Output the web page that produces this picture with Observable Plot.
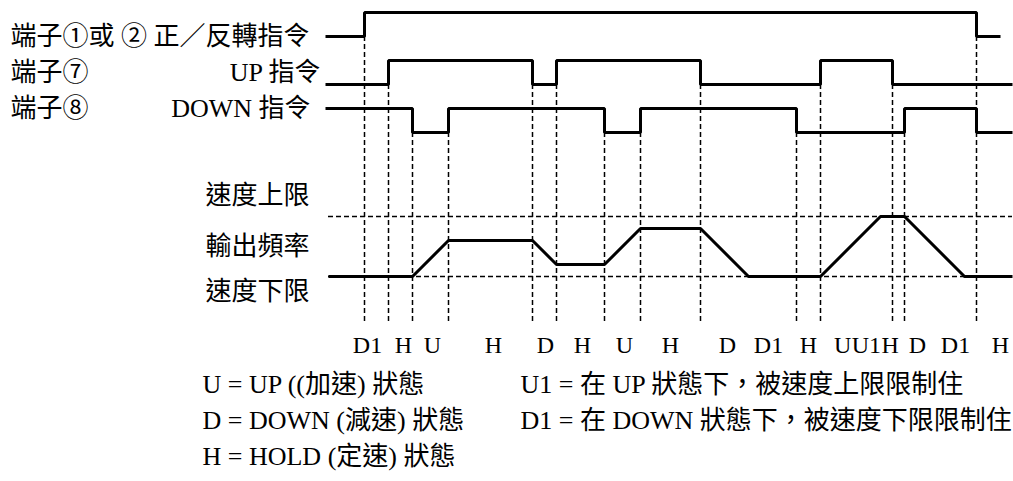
<!DOCTYPE html>
<html><head><meta charset="utf-8">
<script src="https://cdn.jsdelivr.net/npm/d3@7"></script>
<script src="https://cdn.jsdelivr.net/npm/@observablehq/plot@0.6"></script>
<style>
html,body{margin:0;padding:0;background:#fff;}
</style>
</head><body><div id="chart"></div>
<script>
// ---- data (time in arbitrary units, command levels 0 = low, 1 = high) ----
const runTimes   = [-0.25, 3, 54, 56];
const runLevels  = [0, 1, 0, 0];
const upTimes    = [-0.25, 5, 17, 19, 31, 41, 47, 57];
const upLevels   = [0, 1, 0, 1, 0, 1, 0, 0];
const downTimes  = [-0.25, 7, 10, 23, 26, 39, 48, 54, 57];
const downLevels = [1, 0, 1, 0, 1, 0, 1, 0, 0];
// output frequency: 0 = lower speed limit, 5 = upper speed limit
const freqTimes  = [0, 7, 10, 17, 19, 23, 26, 31, 35, 41, 46, 48, 53, 57];
const freqValues = [0, 0, 3, 3, 1, 1, 4, 4, 0, 0, 5, 5, 0, 0];
const freqLimits = [0, 5];
// state boundaries and the signal whose edge triggers them
const boundaryTimes   = [3, 5, 7, 10, 17, 19, 23, 26, 31, 39, 41, 47, 48, 54];
const boundarySignals = ["run","up","down","down","up","up","down","down","up","down","up","up","down","run"];
// state labels under the diagram
const stateNames = ["D1","H","U","H","D","H","U","H","D","D1","H","U","U1","H","D","D1","H"];
const stateTimes = [3.25, 6.25, 8.67, 13.75, 18.08, 21.17, 24.67, 28.5, 33.25, 36.67, 40, 42.85, 44.83, 46.8, 49.08, 52.25, 56];
// texts
const runLabel   = "端子①或 ② 正／反轉指令";
const upLabels   = ["端子⑦", "UP 指令"];
const downLabels = ["端子⑧", "DOWN 指令"];
const freqLabels = ["速度上限", "輸出頻率", "速度下限"];
const legendLeft  = ["U = UP ((加速) 狀態", "D = DOWN (減速) 狀態", "H = HOLD (定速) 狀態"];
const legendRight = ["U1 = 在 UP 狀態下，被速度上限限制住", "D1 = 在 DOWN 狀態下，被速度下限限制住"];

// ---- layout (lanes in y units) ----
const lane = {run: 37, up: 33, down: 29};
const amp = 2;
const freqBase = 17;
const FONT = "'Liberation Serif', 'Noto Sans CJK TC', serif";

const toRows = (ts, vs, base) => ts.map((t, i) => ({t, y: base + vs[i] * amp}));
const runData  = toRows(runTimes, runLevels, lane.run);
const upData   = toRows(upTimes, upLevels, lane.up);
const downData = toRows(downTimes, downLevels, lane.down);
const freqData = freqTimes.map((t, i) => ({t, y: freqBase + freqValues[i]}));
const bounds = boundaryTimes.map((t, i) => ({t, y1: lane[boundarySignals[i]], y2: 13.1}));
const states = stateNames.map((s, i) => ({s, t: stateTimes[i]}));

const dash = {stroke: "black", strokeWidth: 1.5, strokeDasharray: "5,3"};
const thick = {stroke: "black", strokeWidth: 3, strokeLinejoin: "miter", strokeLinecap: "butt"};
const txt = {fontSize: 26, fontFamily: FONT, fill: "black"};

const chart = Plot.plot({
  width: 1013,
  height: 481,
  margin: 0,
  x: {domain: [0, 57], range: [328, 1012], axis: null},
  y: {domain: [0, 40], range: [480, 0], axis: null},
  style: {background: "white", fontFamily: FONT},
  marks: [
    Plot.ruleX(bounds, {x: "t", y1: "y1", y2: "y2", ...dash}),
    Plot.ruleY(freqLimits, {y: d => freqBase + d, x1: 0, x2: 57, ...dash}),
    Plot.line(runData,  {x: "t", y: "y", curve: "step-after", ...thick}),
    Plot.line(upData,   {x: "t", y: "y", curve: "step-after", ...thick}),
    Plot.line(downData, {x: "t", y: "y", curve: "step-after", ...thick}),
    Plot.line(freqData, {x: "t", y: "y", ...thick}),
    // left signal labels
    Plot.text([runLabel], {x: -26.5, y: lane.run, text: d => d, textAnchor: "start", ...txt}),
    Plot.text([upLabels[0]], {x: -26.5, y: lane.up + 1, text: d => d, textAnchor: "start", ...txt}),
    Plot.text([upLabels[1]], {x: -0.67, y: lane.up + 1, text: d => d, textAnchor: "end", ...txt}),
    Plot.text([downLabels[0]], {x: -26.5, y: lane.down + amp, text: d => d, textAnchor: "start", ...txt}),
    Plot.text([downLabels[1]], {x: -1.5, y: lane.down + amp, text: d => d, textAnchor: "end", ...txt}),
    // frequency labels
    Plot.text(freqLabels, {x: -10.25, y: (d, i) => freqBase + [6.75, 2.5, -1.3][i], text: d => d, textAnchor: "start", ...txt}),
    // state labels
    Plot.text(states, {x: "t", y: 11.25, text: "s", textAnchor: "middle", ...txt, fontSize: 24}),
    // legend
    Plot.text(legendLeft, {x: -10.5, y: (d, i) => 8 - 3 * i, text: d => d, textAnchor: "start", ...txt}),
    Plot.text(legendRight, {x: 16, y: (d, i) => 8 - 3 * i, text: d => d, textAnchor: "start", ...txt})
  ]
});
document.getElementById("chart").appendChild(chart);
</script>
</body></html>
